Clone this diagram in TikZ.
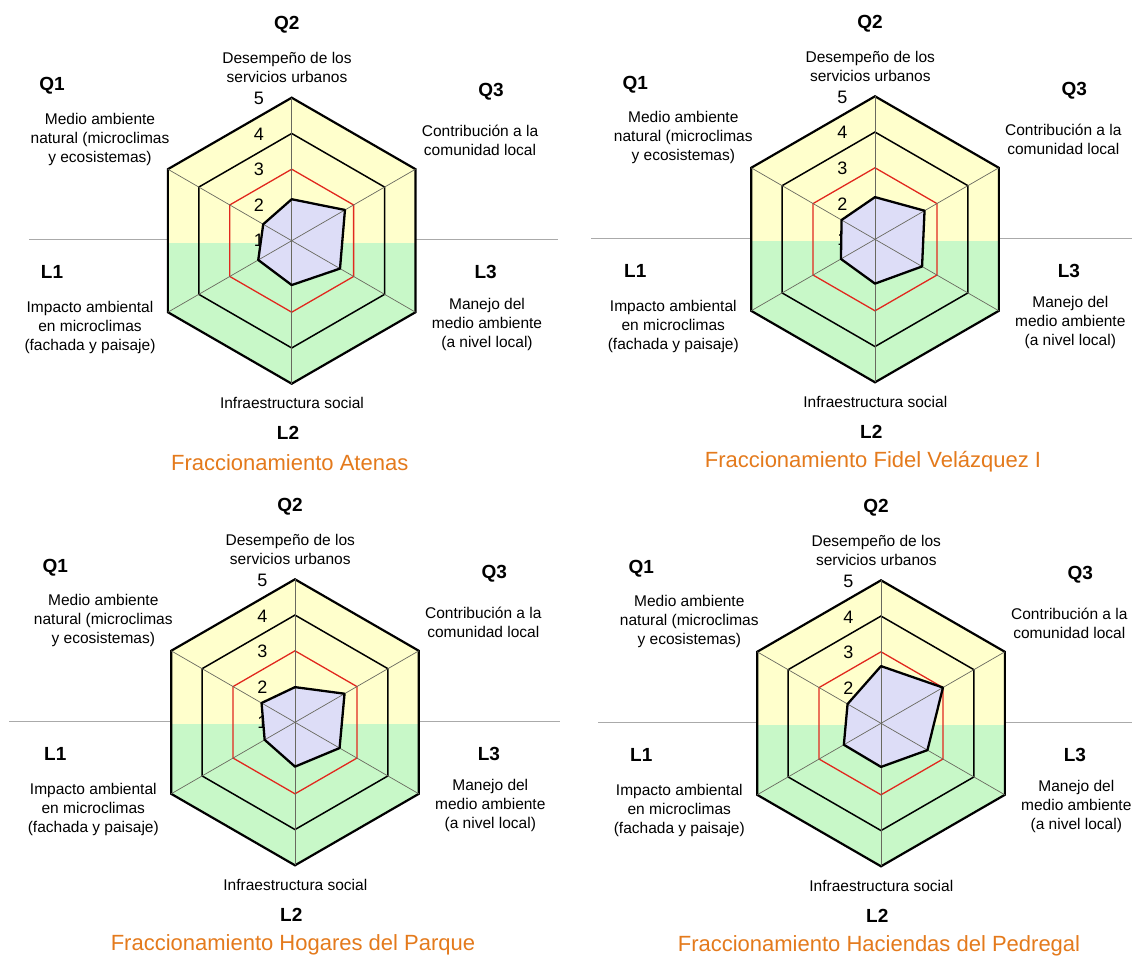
\documentclass[tikz,border=0pt]{standalone}
\usepackage{fontspec}
\setmainfont{Liberation Sans}
\definecolor{yel}{RGB}{255,255,204}
\definecolor{grn}{RGB}{200,248,200}
\definecolor{lav}{RGB}{221,221,247}
\definecolor{ttl}{RGB}{228,122,28}
\definecolor{axc}{RGB}{105,105,95}
\definecolor{hln}{RGB}{170,170,170}
\definecolor{rring}{RGB}{225,40,30}
\newcommand\hexp[1]{(90:#1) -- (30:#1) -- (-30:#1) -- (-90:#1) -- (-150:#1) -- (150:#1) -- cycle}
\tikzset{
  qlab/.style={font=\fontsize{19}{22}\selectfont\bfseries, inner sep=0pt},
  desc/.style={font=\fontsize{15.5}{19}\selectfont, align=center, inner sep=0pt},
  numlab/.style={font=\fontsize{18}{20}\selectfont, inner sep=0pt},
  ttlstyle/.style={font=\fontsize{22}{24}\selectfont, text=ttl, inner sep=0pt},
  hline/.style={draw=hln, line width=1.2pt},
  outerring/.style={draw=black, line width=2.2pt, line join=miter},
  ringfour/.style={draw=black, line width=1.5pt},
  ringthree/.style={draw=rring, line width=1.3pt},
  axisline/.style={draw=axc, line width=0.7pt},
  polyline/.style={draw=black, line width=2.3pt, line join=round}
}
\begin{document}
\begin{tikzpicture}[x=1pt,y=-1pt]
\useasboundingbox (0,0) rectangle (1132,956);
\fill[white] (0,0) rectangle (1132,956);
\def\R{143}
\foreach \p/\cx/\cy/\lx/\rx/\a/\b/\c/\d/\e/\f/\t in {
 1/291.7/240.7/29/558/.29/.43/.39/.31/.27/.23/{Fraccionamiento Atenas},
 2/875/239.3/591/1132/.295/.40/.38/.31/.275/.27/{Fraccionamiento Fidel Velázquez I},
 3/295/722.3/9/560/.246/.40/.36/.31/.245/.27/{Fraccionamiento Hogares del Parque},
 4/881/723.3/598/1132/.40/.50/.375/.305/.30/.27/{Fraccionamiento Haciendas del Pedregal}}
{
 \draw[hline] (\lx,\cy-1) -- (\rx,\cy-1);
 \begin{scope}[shift={(\cx,\cy)}, yscale=-1]
  \begin{scope}
   \clip \hexp{\R};
   \fill[yel] (-160,-2) rectangle (160,160);
   \fill[grn] (-160,-2) rectangle (160,-160);
  \end{scope}
  \draw[ringthree] \hexp{{0.5*\R}};
  \draw[ringfour] \hexp{{0.75*\R}};
  \draw[outerring] \hexp{\R};
  \foreach \v/\yy in {1/0,2/35.5,3/71,4/106.5,5/142}
    \node[numlab] (n\v-\p) at (-32.7,\yy) {\v};
  \fill[lav] (90:{\a*\R}) -- (30:{\b*\R}) -- (-30:{\c*\R}) -- (-90:{\d*\R}) -- (-150:{\e*\R}) -- (150:{\f*\R}) -- cycle;
  \foreach \ang in {90,30,-30,-90,-150,150}
    \draw[axisline] (0,0) -- (\ang:\R);
  \draw[polyline] (90:{\a*\R}) -- (30:{\b*\R}) -- (-30:{\c*\R}) -- (-90:{\d*\R}) -- (-150:{\e*\R}) -- (150:{\f*\R}) -- cycle;
  \node[qlab] (q2-\p) at (-5,216) {Q2};
  \node[desc] (dq2-\p) at (-4.7,173.2) {Desempeño de los\\servicios urbanos};
  \node[qlab] (q1-\p) at (-239.7,154.7) {Q1};
  \node[desc] (dq1-\p) at (-191.7,101.7) {Medio ambiente\\natural (microclimas\\y ecosistemas)};
  \node[qlab] (q3-\p) at (199.3,148.7) {Q3};
  \node[desc] (dq3-\p) at (188.3,100.2) {Contribución a la\\comunidad local};
  \node[qlab] (l1-\p) at (-239.7,-31.3) {L1};
  \node[desc] (dl1-\p) at (-201.7,-87) {Impacto ambiental\\en microclimas\\(fachada y paisaje)};
  \node[qlab] (l3-\p) at (193.9,-31.3) {L3};
  \node[desc] (dl3-\p) at (195.3,-83.3) {Manejo del\\medio ambiente\\(a nivel local)};
  \node[desc] (dl2-\p) at (0.3,-162.3) {Infraestructura social};
  \node[qlab] (l2-\p) at (-3.7,-192.3) {L2};
  \node[ttlstyle] (t-\p) at (-2,-222) {\t};
 \end{scope}
}
\end{tikzpicture}
\end{document}
